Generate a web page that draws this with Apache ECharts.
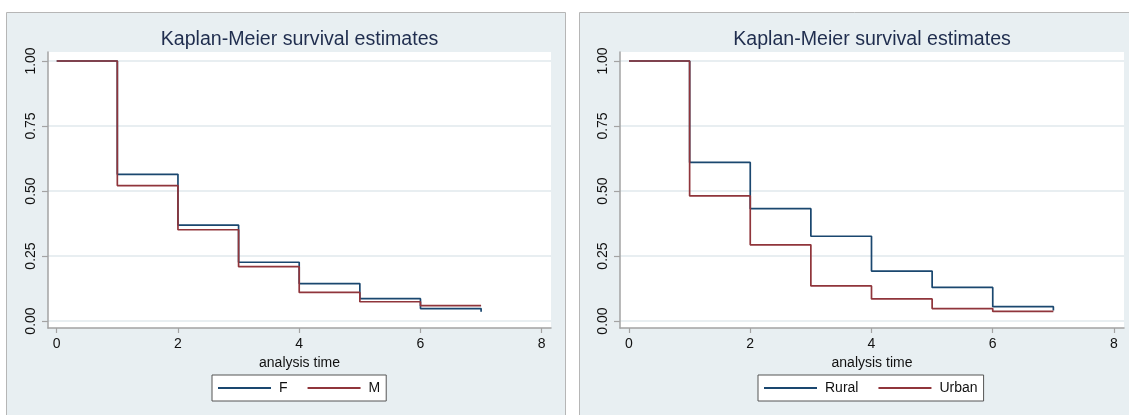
<!DOCTYPE html>
<html>
<head>
<meta charset="utf-8">
<script src="https://cdn.jsdelivr.net/npm/echarts@6/dist/echarts.min.js"></script>
<style>
  html, body { margin: 0; padding: 0; background: #ffffff; }
  #chart { width: 1129px; height: 415px; }
</style>
</head>
<body>
<div id="chart"></div>
<script>
// Kaplan-Meier step estimates at each analysis time
const times = [0, 1, 2, 3, 4, 5, 6, 7];
const survF = [1.00, 0.564, 0.369, 0.226, 0.144, 0.086, 0.048, 0.036];
const survM = [1.00, 0.521, 0.351, 0.209, 0.110, 0.074, 0.059, 0.059];
const survRural = [1.00, 0.610, 0.432, 0.326, 0.192, 0.129, 0.055, 0.040];
const survUrban = [1.00, 0.481, 0.293, 0.135, 0.085, 0.048, 0.037, 0.037];

const xTicks = [0, 2, 4, 6, 8];
const yTicks = [0, 0.25, 0.5, 0.75, 1];
const titleText = 'Kaplan-Meier survival estimates';
const xName = 'analysis time';
const groupsLeft = ['F', 'M'];
const groupsRight = ['Rural', 'Urban'];

// Styling
const FONT = '"Liberation Sans", Arial, Helvetica, sans-serif';
const NAVY = '#1a476f';
const MAROON = '#90353b';
const PANEL_BG = '#e8eff2';
const GRID_LINE = '#e0e9ec';
const AXIS_GRAY = '#a3a3a3';

// Plot regions (white area) and their axis extents
const plots = [
  { left: 48, top: 52, width: 503, height: 276, xMin: -0.1435, xMax: 8.153 },
  { left: 620, top: 52, width: 504, height: 276, xMin: -0.1485, xMax: 8.165 }
];
const yMin = -0.0269, yMax = 1.0346;

function stepData(vals) {
  return times.map((t, i) => [t, vals[i]]);
}

const grids = plots.map(p => ({
  left: p.left, top: p.top, width: p.width, height: p.height,
  show: true, backgroundColor: '#ffffff', borderWidth: 0, containLabel: false
}));

const xAxes = plots.map((p, i) => ({
  type: 'value', gridIndex: i, min: p.xMin, max: p.xMax,
  name: xName, nameLocation: 'middle', nameGap: 21,
  nameTextStyle: { fontFamily: FONT, fontSize: 14, color: '#111', verticalAlign: 'top' },
  axisLine: { show: true, onZero: false, lineStyle: { color: AXIS_GRAY, width: 1.5 } },
  axisTick: { show: true, length: 5, customValues: xTicks, lineStyle: { color: AXIS_GRAY, width: 1.2 } },
  axisLabel: { customValues: xTicks, margin: 9, fontFamily: FONT, fontSize: 14, color: '#111' },
  splitLine: { show: false }
}));

const yAxes = plots.map((p, i) => ({
  type: 'value', gridIndex: i, min: yMin, max: yMax,
  axisLine: { show: true, onZero: false, lineStyle: { color: AXIS_GRAY, width: 1.5 } },
  axisTick: { show: true, length: 6, customValues: yTicks, lineStyle: { color: AXIS_GRAY, width: 1.2 } },
  axisLabel: {
    customValues: yTicks, rotate: 90, margin: 10,
    fontFamily: FONT, fontSize: 14, color: '#111',
    formatter: v => v.toFixed(2)
  },
  splitLine: { show: true, lineStyle: { color: GRID_LINE, width: 1.5 } }
}));

function kmSeries(name, vals, idx, color) {
  return {
    name, type: 'line', step: 'end', symbol: 'none',
    xAxisIndex: idx, yAxisIndex: idx,
    data: stepData(vals),
    color,
    lineStyle: { color, width: 1.7 },
    emphasis: { disabled: true },
    animation: false
  };
}

const legendBase = {
  orient: 'horizontal', top: 375,
  icon: 'rect', itemWidth: 53, itemHeight: 2, itemGap: 20,
  backgroundColor: '#ffffff', borderColor: '#555555', borderWidth: 1,
  padding: [6, 6, 6, 6],
  textStyle: { fontFamily: FONT, fontSize: 14, color: '#111', padding: [0, 0, 0, 3] },
  selectedMode: false
};

const option = {
  animation: false,
  graphic: [
    { type: 'rect', z: -100, silent: true,
      shape: { x: 6.5, y: 12.5, width: 559, height: 420 },
      style: { fill: PANEL_BG, stroke: '#b6b6b6', lineWidth: 1 } },
    { type: 'rect', z: -100, silent: true,
      shape: { x: 579.5, y: 12.5, width: 600, height: 420 },
      style: { fill: PANEL_BG, stroke: '#b6b6b6', lineWidth: 1 } }
  ],
  title: plots.map(p => ({
    text: titleText, left: p.left + p.width / 2, top: 30, textAlign: 'center', padding: 0,
    textStyle: { fontFamily: FONT, fontSize: 19.6, fontWeight: 'normal', color: '#1f2d4e' }
  })),
  legend: [
    Object.assign({}, legendBase, { left: 212, data: groupsLeft }),
    Object.assign({}, legendBase, { left: 758, data: groupsRight })
  ],
  grid: grids,
  xAxis: xAxes,
  yAxis: yAxes,
  series: [
    kmSeries(groupsLeft[0], survF, 0, NAVY),
    kmSeries(groupsLeft[1], survM, 0, MAROON),
    kmSeries(groupsRight[0], survRural, 1, NAVY),
    kmSeries(groupsRight[1], survUrban, 1, MAROON)
  ]
};

const chart = echarts.init(document.getElementById('chart'), null, { renderer: 'canvas' });
chart.setOption(option);
</script>
</body>
</html>
